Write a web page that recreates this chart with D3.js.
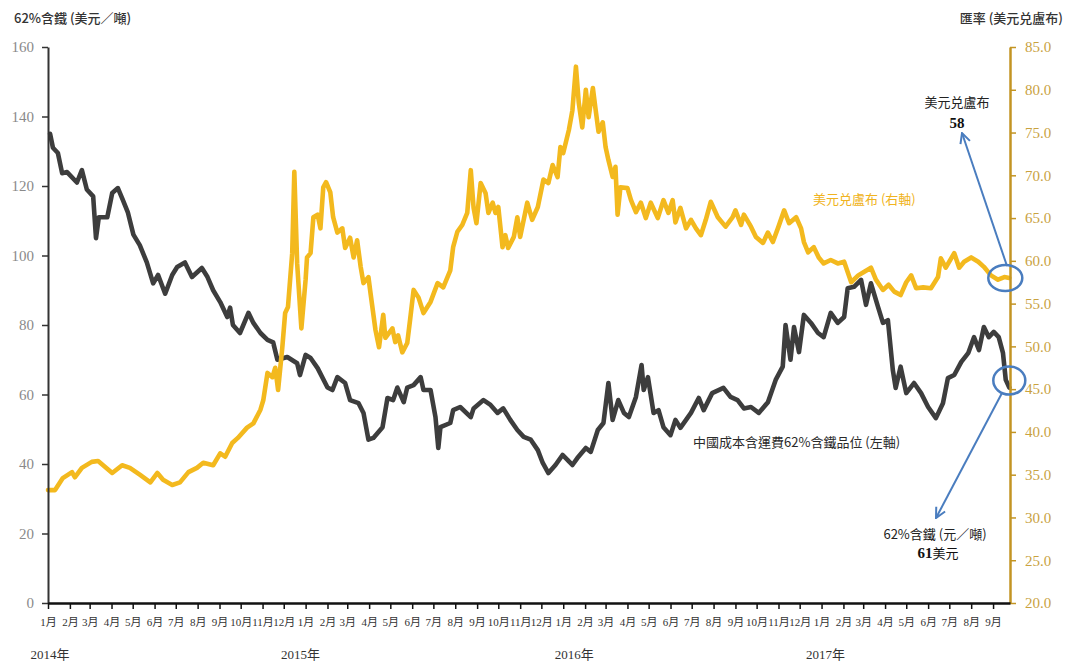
<!DOCTYPE html>
<html><head><meta charset="utf-8">
<script src="https://cdn.jsdelivr.net/npm/d3@7/dist/d3.min.js"></script>
<style>
html,body{margin:0;padding:0;background:#fff;}
svg{display:block;}
</style></head>
<body><svg id="chart" width="1066" height="662"></svg>
<script>
// ---- data ----
const ironDates = ["2014-01-04","2014-01-08","2014-01-15","2014-01-21","2014-01-28","2014-02-11","2014-02-18","2014-02-25","2014-03-06","2014-03-10","2014-03-14","2014-03-26","2014-04-02","2014-04-10","2014-04-17","2014-04-24","2014-05-02","2014-05-11","2014-05-21","2014-05-30","2014-06-06","2014-06-16","2014-06-26","2014-07-03","2014-07-14","2014-07-24","2014-08-07","2014-08-15","2014-08-23","2014-09-02","2014-09-12","2014-09-16","2014-09-20","2014-09-30","2014-10-12","2014-10-19","2014-10-29","2014-11-08","2014-11-16","2014-11-22","2014-12-06","2014-12-20","2014-12-24","2015-01-01","2015-01-08","2015-01-18","2015-02-01","2015-02-08","2015-02-15","2015-02-26","2015-03-05","2015-03-17","2015-03-24","2015-03-31","2015-04-07","2015-04-20","2015-04-27","2015-05-05","2015-05-11","2015-05-20","2015-05-25","2015-06-03","2015-06-13","2015-06-17","2015-06-27","2015-07-04","2015-07-08","2015-07-11","2015-07-25","2015-07-29","2015-08-08","2015-08-23","2015-08-27","2015-09-10","2015-09-20","2015-09-30","2015-10-08","2015-10-18","2015-10-28","2015-11-06","2015-11-16","2015-11-26","2015-12-03","2015-12-11","2015-12-21","2015-12-31","2016-01-07","2016-01-14","2016-01-21","2016-02-02","2016-02-09","2016-02-19","2016-02-27","2016-03-05","2016-03-11","2016-03-19","2016-03-27","2016-04-03","2016-04-13","2016-04-21","2016-04-24","2016-04-30","2016-05-08","2016-05-15","2016-05-22","2016-06-01","2016-06-08","2016-06-15","2016-06-30","2016-07-11","2016-07-18","2016-07-30","2016-08-15","2016-08-25","2016-09-04","2016-09-13","2016-09-23","2016-10-04","2016-10-17","2016-10-28","2016-11-07","2016-11-11","2016-11-18","2016-11-23","2016-11-30","2016-12-07","2016-12-17","2016-12-27","2017-01-04","2017-01-14","2017-01-24","2017-02-02","2017-02-07","2017-02-16","2017-02-26","2017-03-05","2017-03-12","2017-03-22","2017-03-29","2017-04-05","2017-04-12","2017-04-16","2017-04-23","2017-05-01","2017-05-12","2017-05-22","2017-06-01","2017-06-12","2017-06-22","2017-06-29","2017-07-08","2017-07-18","2017-07-28","2017-08-05","2017-08-12","2017-08-19","2017-08-26","2017-09-02","2017-09-09","2017-09-15","2017-09-19","2017-09-24"];
const ironValues = [135,131,129.5,123.7,124,121,124.6,119,117,105,111,111,118,119.4,116,112.5,106,103,98,92,94.4,89,94.4,96.7,98,93.8,96.4,93.8,90,86.6,82.3,85,80,77.7,83.5,80.6,77.7,75.7,75,70,70.8,69,65.6,71.4,70.5,67.6,62,61.3,65,63.3,58.4,57.5,54.7,47,47.5,50.6,59,58.4,62,57.8,62,62.7,65,61.3,61.3,53.5,44.6,50.6,51.8,55.5,56.4,53.5,56,58.4,57,54.7,56,52.7,49.8,47.8,47,44,40.3,37.4,39.7,42.6,41.2,39.7,41.7,44.6,43.5,49.8,51.8,63.3,52.7,58.4,54.7,53.5,59.3,68.5,61.3,65,54.7,55.5,50.6,48.3,52.7,50.4,54.7,59,55.5,60.4,61.9,59.3,58.4,56,56.4,54.7,57.8,64.2,68,80,70,79.4,72.2,82.9,80.6,77.7,76.5,83.5,80.6,82.3,90.6,91,93,85.8,92,85.2,80.6,81.4,67,61.9,68,60.4,63.3,60.4,56.4,53.2,57.5,64.7,65.6,69.4,72,76.5,72.8,79.4,76.5,78,76.5,72,64.2,62];

const rubDates = ["2014-01-01","2014-01-11","2014-01-22","2014-02-04","2014-02-08","2014-02-18","2014-03-04","2014-03-13","2014-04-02","2014-04-16","2014-04-27","2014-05-11","2014-05-26","2014-06-05","2014-06-13","2014-06-26","2014-07-07","2014-07-19","2014-07-31","2014-08-09","2014-08-23","2014-09-02","2014-09-09","2014-09-19","2014-09-27","2014-10-10","2014-10-19","2014-10-29","2014-11-02","2014-11-08","2014-11-15","2014-11-19","2014-11-23","2014-11-29","2014-12-03","2014-12-07","2014-12-13","2014-12-16","2014-12-20","2014-12-26","2015-01-01","2015-01-03","2015-01-08","2015-01-12","2015-01-18","2015-01-22","2015-01-26","2015-01-30","2015-02-05","2015-02-09","2015-02-15","2015-02-22","2015-02-26","2015-03-05","2015-03-10","2015-03-15","2015-03-20","2015-03-24","2015-03-31","2015-04-03","2015-04-10","2015-04-15","2015-04-21","2015-04-24","2015-05-04","2015-05-08","2015-05-12","2015-05-18","2015-05-25","2015-05-29","2015-06-03","2015-06-10","2015-06-17","2015-06-27","2015-07-07","2015-07-15","2015-07-25","2015-07-29","2015-08-04","2015-08-11","2015-08-18","2015-08-23","2015-08-27","2015-08-31","2015-09-06","2015-09-13","2015-09-17","2015-09-23","2015-09-27","2015-10-01","2015-10-07","2015-10-11","2015-10-15","2015-10-23","2015-10-28","2015-11-01","2015-11-11","2015-11-18","2015-11-26","2015-12-04","2015-12-11","2015-12-17","2015-12-24","2015-12-28","2016-01-01","2016-01-09","2016-01-14","2016-01-19","2016-01-23","2016-01-28","2016-02-02","2016-02-06","2016-02-12","2016-02-16","2016-02-20","2016-02-26","2016-03-01","2016-03-05","2016-03-11","2016-03-15","2016-03-18","2016-03-22","2016-04-01","2016-04-06","2016-04-13","2016-04-20","2016-04-27","2016-05-04","2016-05-14","2016-05-22","2016-05-29","2016-06-04","2016-06-08","2016-06-15","2016-06-23","2016-06-30","2016-07-07","2016-07-14","2016-07-21","2016-07-28","2016-08-07","2016-08-18","2016-08-28","2016-09-01","2016-09-09","2016-09-13","2016-09-23","2016-09-30","2016-10-10","2016-10-17","2016-10-24","2016-11-01","2016-11-09","2016-11-16","2016-11-26","2016-12-03","2016-12-07","2016-12-13","2016-12-21","2016-12-28","2017-01-04","2017-01-14","2017-01-24","2017-02-02","2017-02-12","2017-02-22","2017-03-02","2017-03-12","2017-03-19","2017-03-29","2017-04-06","2017-04-14","2017-04-23","2017-05-01","2017-05-08","2017-05-15","2017-05-25","2017-06-05","2017-06-15","2017-06-19","2017-06-26","2017-07-08","2017-07-15","2017-07-22","2017-08-01","2017-08-11","2017-08-19","2017-08-29","2017-09-08","2017-09-17","2017-09-24"];
const rubValues = [33.2,33.2,34.6,35.3,34.7,35.8,36.5,36.6,35.2,36.1,35.8,35,34.1,35.2,34.4,33.8,34.1,35.3,35.8,36.4,36.1,37.5,37.1,38.7,39.3,40.5,41,42.6,43.7,46.9,46.4,47.5,44.9,49.9,53.9,54.6,60.9,70.4,59.7,52.1,57.8,60.4,60.9,65.1,65.4,63.8,68.6,69.2,68,65.1,63.3,63.8,61.5,62.7,60.4,62.4,59.3,57.4,58.1,56.2,51.9,49.9,53.7,51,52.1,50.5,51.3,49.3,50.4,53.1,56.6,55.7,53.9,55.2,57.4,56.9,58.9,61.6,63.4,64.2,65.6,70.6,66.2,64.4,69.1,67.9,65.6,66.8,65.6,66.3,61.6,63,61.5,62.8,65.1,62.8,66.8,64.8,66.3,69.5,69.1,71.2,69.8,73.3,72.6,75.3,77.6,82.7,78.5,75.6,80,76.8,80.2,77.6,75.1,76.2,73.3,71.8,69.8,71,65.4,68.6,68.5,67.1,65.7,66.8,65,66.8,65,67.1,65.6,67.1,64.5,66.2,63.8,64.8,63.8,63,64.8,66.9,65.1,64,65.1,65.9,64.2,65.4,64,62.8,62.1,63.3,62.2,64,65.9,64.4,65.1,63.8,62.2,61,61.6,60.4,59.7,60.1,59.7,59.9,57.5,58.3,58.7,59.2,57.8,56.6,57.2,56.4,56,57.5,58.3,56.8,56.9,56.8,58.1,60.3,59.2,60.9,59.2,59.9,60.4,59.9,59.3,58.3,57.8,58.1,58];

const leftTicks = [0,20,40,60,80,100,120,140,160];
const rightTicks = [20,25,30,35,40,45,50,55,60,65,70,75,80,85];
const yearLabels = ["2014年","2015年","2016年","2017年"];
const xDomain = ["2014-01-01","2017-09-25"];

const leftTitle = "62%含鐵 (美元／噸)";
const rightTitle = "匯率 (美元兑盧布)";
const ironLabel = "中國成本含運費62%含鐵品位 (左軸)";
const rubLabel = "美元兑盧布 (右軸)";
const rubCallout = ["美元兑盧布", "58"];
const ironCallout = ["62%含鐵 (元／噸)", "61美元"];

// ---- drawing ----
const parse = d3.timeParse("%Y-%m-%d");
const svg = d3.select("#chart");
const m = {left: 48, right: 1010, top: 47, bottom: 603};

const x = d3.scaleTime().domain(xDomain.map(parse)).range([m.left, m.right]);
const yL = d3.scaleLinear().domain([0,160]).range([m.bottom, m.top]);
const yR = d3.scaleLinear().domain([20,85]).range([m.bottom, m.top]);

const serif = "'Liberation Serif','Times New Roman','Noto Sans CJK TC',serif";
const sans = "'Noto Sans CJK TC','Noto Sans',sans-serif";

const ironData = ironDates.map((d,i)=>({d:parse(d), v:ironValues[i]}));
const rubData = rubDates.map((d,i)=>({d:parse(d), v:rubValues[i]}));

// lines
svg.append("path").datum(ironData)
  .attr("fill","none").attr("stroke","#3d3d3d").attr("stroke-width",4.6)
  .attr("stroke-linejoin","round").attr("stroke-linecap","round")
  .attr("d", d3.line().x(p=>x(p.d)).y(p=>yL(p.v)));
svg.append("path").datum(rubData)
  .attr("fill","none").attr("stroke","#f3b91e").attr("stroke-width",4.6)
  .attr("stroke-linejoin","round").attr("stroke-linecap","round")
  .attr("d", d3.line().x(p=>x(p.d)).y(p=>yR(p.v)));

// left axis
const gL = svg.append("g").attr("transform",`translate(${m.left},0)`)
  .call(d3.axisLeft(yL).tickValues(leftTicks).tickSize(6).tickPadding(8).tickSizeOuter(0));
gL.select(".domain").attr("stroke","#333").attr("stroke-width",2);
gL.selectAll(".tick line").attr("stroke","#333").attr("stroke-width",1.5);
gL.selectAll(".tick text").attr("fill","#8a8a8a").style("font-family",serif).style("font-size","15px");

// right axis
const gR = svg.append("g").attr("transform",`translate(${m.right},0)`)
  .call(d3.axisRight(yR).tickValues(rightTicks).tickFormat(d3.format(".1f")).tickSize(6).tickPadding(9).tickSizeOuter(0));
gR.select(".domain").attr("stroke","#c39423").attr("stroke-width",2.5);
gR.selectAll(".tick line").attr("stroke","#c39423").attr("stroke-width",1.5);
gR.selectAll(".tick text").attr("fill","#c9a23f").style("font-family",serif).style("font-size","15px");

// bottom axis
const months = d3.timeMonth.range(parse(xDomain[0]), parse(xDomain[1]));
const gB = svg.append("g").attr("transform",`translate(0,${m.bottom})`)
  .call(d3.axisBottom(x).tickValues(months).tickFormat(d=>(d.getMonth()+1)+"月").tickSize(6).tickPadding(9).tickSizeOuter(0));
gB.select(".domain").attr("stroke","#111").attr("stroke-width",2.5);
gB.selectAll(".tick line").attr("stroke","#111").attr("stroke-width",1.5);
gB.selectAll(".tick text").attr("fill","#333").style("font-family",serif).style("font-size","11px");

// year labels (placed relative to January tick of each year)
const yearNudge = [2,-5,11,4];
svg.append("g").selectAll("text").data(yearLabels).join("text")
  .attr("x", (d,i)=>x(new Date(+d.slice(0,4),0,1)) + yearNudge[i])
  .attr("y", 659).attr("text-anchor","middle")
  .attr("fill","#333").style("font-family",serif).style("font-size","13px")
  .text(d=>d);

// axis titles
svg.append("text").attr("x",14).attr("y",23).attr("fill","#333")
  .style("font-family",sans).style("font-size","13px").style("font-weight","500").text(leftTitle);
svg.append("text").attr("x",1063).attr("y",23).attr("text-anchor","end").attr("fill","#333")
  .style("font-family",sans).style("font-size","13px").style("font-weight","500").text(rightTitle);

// series labels
svg.append("text").attr("x",813).attr("y",204).attr("fill","#f0b320")
  .style("font-family",sans).style("font-size","13px").text(rubLabel);
svg.append("text").attr("x",693).attr("y",447).attr("fill","#2a2a2a")
  .style("font-family",sans).style("font-size","13px").text(ironLabel);

// callouts
const blue = "#4a7dbf";
svg.append("defs").append("marker").attr("id","arr")
  .attr("viewBox","0 0 12 12").attr("refX",11).attr("refY",6)
  .attr("markerWidth",12).attr("markerHeight",12).attr("markerUnits","userSpaceOnUse")
  .attr("orient","auto")
  .append("path").attr("d","M1,1 L11,6 L1,11").attr("fill","none").attr("stroke",blue).attr("stroke-width",2);

const lastRub = rubData[rubData.length-1], lastIron = ironData[ironData.length-1];
svg.append("ellipse").attr("cx", x(lastRub.d)-4).attr("cy", yR(lastRub.v)).attr("rx",17).attr("ry",13)
  .attr("fill","none").attr("stroke",blue).attr("stroke-width",2.5);
svg.append("ellipse").attr("cx", x(lastIron.d)).attr("cy", yL(lastIron.v)-7).attr("rx",16).attr("ry",14)
  .attr("fill","none").attr("stroke",blue).attr("stroke-width",2.5);

svg.append("line").attr("x1",1007).attr("y1",266).attr("x2",962).attr("y2",133)
  .attr("stroke",blue).attr("stroke-width",2).attr("marker-end","url(#arr)");
svg.append("line").attr("x1",1002).attr("y1",393).attr("x2",936).attr("y2",518)
  .attr("stroke",blue).attr("stroke-width",2).attr("marker-end","url(#arr)");

svg.append("text").attr("x",957).attr("y",107).attr("text-anchor","middle").attr("fill","#222")
  .style("font-family",sans).style("font-size","13px").text(rubCallout[0]);
svg.append("text").attr("x",957).attr("y",128).attr("text-anchor","middle").attr("fill","#111")
  .style("font-family",serif).style("font-size","15px").style("font-weight","bold").text(rubCallout[1]);
svg.append("text").attr("x",935).attr("y",539).attr("text-anchor","middle").attr("fill","#222")
  .style("font-family",sans).style("font-size","13px").text(ironCallout[0]);
const t2 = svg.append("text").attr("x",938).attr("y",558).attr("text-anchor","middle").attr("fill","#111");
t2.append("tspan").style("font-family",serif).style("font-weight","bold").style("font-size","15px").text(ironCallout[1].slice(0,2));
t2.append("tspan").style("font-family",sans).style("font-size","13px").text(ironCallout[1].slice(2));
</script>
</body></html>
